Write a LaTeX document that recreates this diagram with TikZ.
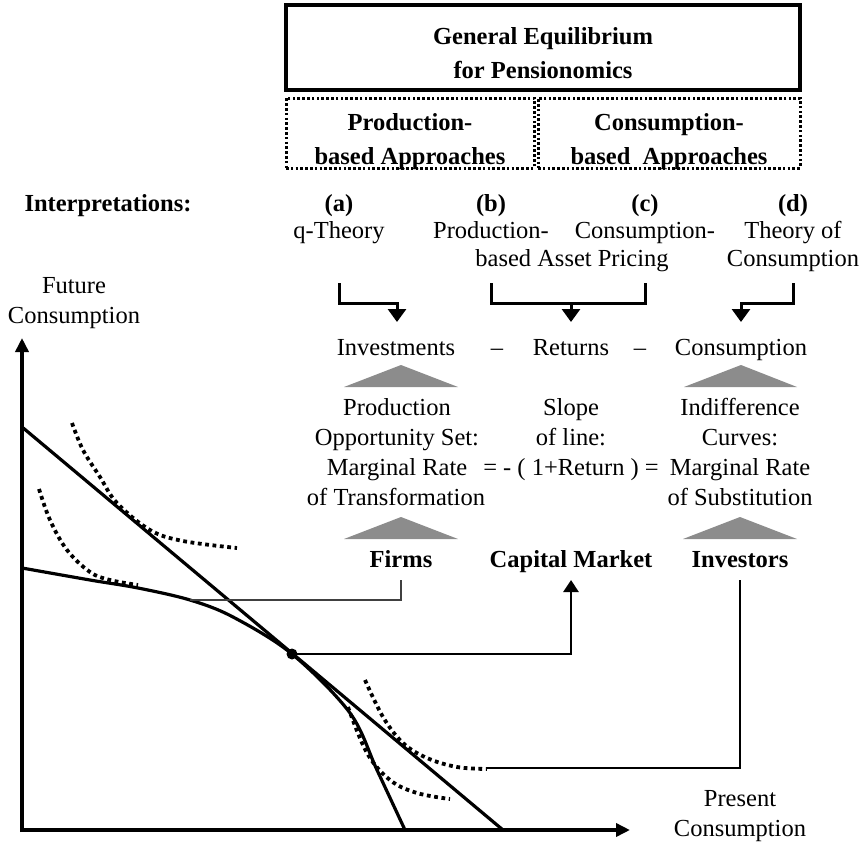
\documentclass[tikz,border=0pt]{standalone}
\usepackage{fontspec}
\setmainfont{Liberation Serif}
\usetikzlibrary{arrows.meta}
\begin{document}
\begin{tikzpicture}[x=1pt,y=-1pt,
  every node/.style={inner sep=0pt, outer sep=0pt},
  t/.style={font=\fontsize{24.5}{29}\selectfont, anchor=base},
  tb/.style={font=\fontsize{24.5}{29}\selectfont\bfseries, anchor=base},
  titlebox/.style={draw, line width=3.2pt, minimum width=514pt, minimum height=85pt},
  dotbox/.style={draw, line width=3pt, dash pattern=on 2.6pt off 2.2pt, minimum height=70pt},
  brk/.style={line width=3pt, line join=miter},
  arr/.style={line width=3pt, line join=miter, -{Triangle[width=18pt,length=13pt]}},
  tri/.style={fill=black!45},
  axis/.style={line width=4pt, -{Triangle[width=13pt,length=14pt]}},
  curve/.style={line width=3.2pt},
  indiff/.style={line width=3.8pt, dash pattern=on 3.8pt off 3.6pt},
  thinconn/.style={line width=1.4pt, black!75},
  midconn/.style={line width=2.2pt},
  capconn/.style={line width=2.8pt, line join=miter, -{Triangle[width=15pt,length=12pt]}},
]
\path[use as bounding box] (0,0) rectangle (865,843);

% ---- top boxes
\node[titlebox] (title) at (543,47.5) {};
\node[tb] (title1) at (543,45) {General Equilibrium};
\node[tb] (title2) at (543,78) {for Pensionomics};
\node[dotbox, minimum width=248pt] (pbox) at (410,133) {};
\node[dotbox, minimum width=262pt] (cbox) at (669,133) {};
\node[tb] (pb1) at (410,130) {Production-};
\node[tb] (pb2) at (410,164) {based Approaches};
\node[tb] (cb1) at (669,130) {Consumption-};
\node[tb] (cb2) at (669,164) {based\ \ Approaches};

% ---- interpretations
\node[tb] (interp) at (108,211) {Interpretations:};
\node[tb] (la) at (339,211) {(a)};
\node[tb] (lb) at (491,211) {(b)};
\node[tb] (lc) at (645,211) {(c)};
\node[tb] (ld) at (793,211) {(d)};
\node[t] (qth) at (339,238) {q-Theory};
\node[t] (prodb) at (491,238) {Production-};
\node[t] (consb) at (645,238) {Consumption-};
\node[t] (thof) at (793,238) {Theory of};
\node[t] (bap) at (572,266) {based Asset Pricing};
\node[t] (thcons) at (793,266) {Consumption};

% ---- brackets and arrows
\coordinate (aTop) at (339,283);
\coordinate (aTip) at (397,322);
\coordinate (bTop) at (491,283);
\coordinate (cTop) at (645,283);
\coordinate (bcTip) at (571,322);
\coordinate (dTop) at (793,283);
\coordinate (dTip) at (741,322);
\draw[arr] (aTop) -- (aTop |- 0,303) -- (aTip |- 0,303) -- (aTip);
\draw[brk] (bTop) -- (bTop |- 0,303) -- (cTop |- 0,303) -- (cTop);
\draw[arr] (bcTip |- 0,303) -- (bcTip);
\draw[arr] (dTop) -- (dTop |- 0,303) -- (dTip |- 0,303) -- (dTip);

% ---- middle row
\node[t] (inv) at (396,355) {Investments};
\node[t] (d1) at (497,355) {--};
\node[t] (ret) at (571,355) {Returns};
\node[t] (d2) at (640,355) {--};
\node[t] (cons) at (741,355) {Consumption};

% ---- triangles
\path[tri] (344,387) -- (401,365) -- (458,387) -- cycle;
\path[tri] (684,387) -- (741,365) -- (797,387) -- cycle;
\path[tri] (344,539) -- (401,517) -- (458,539) -- cycle;
\path[tri] (683,539) -- (740,517) -- (797,539) -- cycle;

% ---- explanation block
\node[t] (p1) at (397,415) {Production};
\node[t] (p2) at (397,445) {Opportunity Set:};
\node[t] (p3) at (397,475) {Marginal Rate};
\node[t] (p4) at (396,505) {of Transformation};
\node[t] (s1) at (571,415) {Slope};
\node[t] (s2) at (571,445) {of line:};
\node[t] (s3) at (571,475) {= - ( 1+Return ) =};
\node[t] (i1) at (740,415) {Indifference};
\node[t] (i2) at (740,445) {Curves:};
\node[t] (i3) at (740,475) {Marginal Rate};
\node[t] (i4) at (740,505) {of Substitution};

% ---- agents
\node[tb] (firms) at (401,567) {Firms};
\node[tb] (capm) at (571,567) {Capital Market};
\node[tb] (invs) at (740,567) {Investors};

% ---- graph
\node[t] (fut1) at (74,293) {Future};
\node[t] (fut2) at (74,323) {Consumption};
\node[t] (pre1) at (740,806) {Present};
\node[t] (pre2) at (740,836) {Consumption};
\draw[axis] (22,832) -- (22,338);
\draw[axis] (20,830) -- (630,830);

% capital market line
\draw[curve] (22,427) -- (503,830);
% production possibility curve
\draw[curve] plot[smooth, tension=0.55] coordinates {(22,568) (90,580) (138,588) (190,600) (233,617) (292,654) (350,713) (377,770) (405,830)};
% indifference curves
\draw[indiff] plot[smooth, tension=0.6] coordinates {(72,423) (83,450) (100,477) (117,503) (150,530) (183,541) (237,548)};
\draw[indiff] plot[smooth, tension=0.6] coordinates {(39,489) (50,520) (67,550) (90,572) (110,580) (138,585)};
\draw[indiff] plot[smooth, tension=0.6] coordinates {(365,680) (383,717) (403,743) (427,758) (457,767) (487,769)};
\draw[indiff] plot[smooth, tension=0.6] coordinates {(348,707) (367,753) (390,780) (417,793) (450,799)};

\node[circle, fill, minimum size=11pt] (eq) at (292,654) {};
\coordinate (invEnd) at (487,768);

% ---- connectors
\draw[thinconn] (firms.south |- 0,580) -- (firms.south |- 0,600) -- (190,600);
\draw[capconn] (eq.center) -- (capm.south |- eq) -- (capm.south |- 0,580);
\draw[midconn] (invs.south |- 0,580) -- (invs.south |- invEnd) -- (invEnd);
\end{tikzpicture}
\end{document}
